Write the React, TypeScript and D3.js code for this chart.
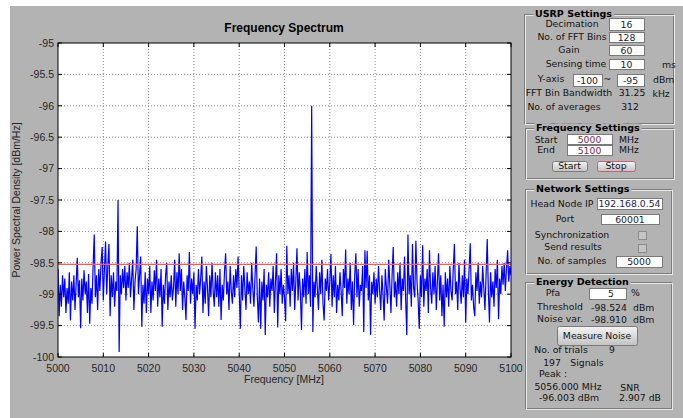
import React from 'react';
import * as d3 from 'd3';

// Spectrum bins: start + step (dBm/Hz)
const FREQ_START = 5000;
const FREQ_STEP = 0.25;
const PSD = [
  -98.60, -99.35, -98.85, -99.20, -98.70, -99.05, -98.75, -99.30, -98.90, -99.15, -98.65, -99.42, -98.80, -99.10, -98.70, -99.25, -98.85, -98.42, -99.05, -98.78,
  -99.54, -98.75, -99.10, -98.62, -99.00, -98.80, -99.30, -98.68, -99.47, -98.90, -99.15, -98.55, -98.05, -99.05, -98.70, -99.25, -98.60, -98.95, -98.50, -98.25,
  -99.10, -98.60, -98.16, -99.00, -98.55, -98.20, -99.35, -98.70, -99.05, -98.65, -99.20, -98.80, -98.95, -97.50, -99.92, -98.70, -99.00, -98.60, -98.90, -98.55,
  -99.10, -98.65, -98.90, -98.50, -99.05, -98.75, -98.45, -99.25, -98.80, -98.60, -97.92, -99.00, -98.70, -98.40, -99.52, -98.85, -99.15, -98.65, -99.30, -98.75,
  -99.00, -98.55, -99.30, -98.80, -99.10, -98.62, -98.95, -98.45, -99.20, -98.75, -99.05, -98.60, -99.52, -98.85, -99.15, -98.70, -98.50, -99.25, -98.80, -99.05,
  -98.70, -99.10, -98.90, -98.45, -99.20, -98.65, -99.00, -98.35, -98.95, -98.60, -99.25, -98.80, -99.05, -99.41, -98.70, -98.95, -98.33, -99.15, -98.75, -99.00,
  -98.65, -99.55, -98.85, -99.10, -98.60, -99.00, -98.75, -98.40, -99.30, -98.80, -99.15, -98.55, -98.90, -99.35, -98.70, -99.05, -98.50, -98.95, -99.20, -98.65,
  -99.05, -98.70, -99.20, -98.60, -99.41, -98.85, -99.10, -98.65, -98.35, -99.00, -98.80, -99.25, -98.55, -98.95, -99.15, -98.70, -99.05, -98.60, -98.90, -98.40,
  -98.95, -99.55, -98.70, -99.10, -98.55, -98.90, -99.25, -98.65, -99.00, -98.80, -99.15, -98.50, -98.90, -99.20, -98.70, -98.24, -99.05, -99.45, -98.75, -99.55,
  -98.80, -99.10, -98.60, -99.65, -98.85, -99.05, -98.65, -99.20, -98.75, -98.95, -98.55, -99.30, -98.80, -98.35, -99.53, -98.70, -99.00, -98.60, -99.15, -98.85,
  -99.05, -99.43, -98.23, -99.00, -98.70, -99.20, -98.60, -98.95, -98.50, -99.25, -98.80, -98.27, -99.10, -98.65, -98.95, -99.57, -98.75, -99.05, -98.60, -99.15,
  -98.33, -99.00, -98.70, -99.20, -96.00, -99.60, -98.80, -99.05, -98.55, -98.90, -99.25, -98.65, -99.00, -98.45, -99.15, -99.42, -98.75, -98.95, -98.60, -99.10,
  -98.80, -98.36, -99.20, -98.70, -99.05, -98.55, -99.30, -98.85, -99.10, -98.65, -98.95, -99.35, -98.60, -98.90, -98.29, -99.15, -98.75, -99.00, -98.50, -99.25,
  -98.80, -99.49, -98.70, -98.35, -99.05, -98.60, -99.20, -98.85, -98.95, -98.55, -99.60, -98.30, -98.90, -98.31, -99.10, -98.70, -99.65, -98.80, -99.00, -98.65,
  -99.15, -98.75, -99.05, -98.55, -98.95, -99.25, -98.70, -99.00, -99.42, -98.60, -98.90, -99.15, -98.45, -98.85, -99.30, -98.70, -98.25, -99.05, -98.80, -99.20,
  -98.65, -99.00, -98.50, -99.25, -98.75, -98.95, -98.40, -99.10, -99.65, -98.05, -99.00, -98.70, -99.20, -98.20, -98.90, -99.05, -98.15, -98.80, -99.10, -99.55,
  -98.70, -99.05, -98.22, -99.20, -98.75, -98.95, -98.60, -99.30, -98.30, -98.90, -99.15, -98.65, -99.00, -98.55, -99.25, -98.80, -98.35, -99.10, -98.70, -99.35,
  -98.85, -99.52, -98.65, -99.05, -98.75, -99.20, -98.55, -98.95, -99.10, -98.60, -98.20, -99.00, -98.80, -99.25, -98.50, -98.90, -99.15, -98.70, -99.05, -98.45,
  -99.45, -98.75, -99.00, -98.60, -98.19, -99.10, -98.85, -99.20, -99.35, -98.65, -98.95, -98.50, -99.15, -98.80, -99.05, -98.55, -98.90, -99.25, -98.70, -98.12,
  -98.95, -99.45, -98.65, -99.05, -98.80, -99.20, -98.60, -98.90, -98.45, -99.40, -98.75, -99.00, -98.55, -98.85, -98.50, -98.95, -98.60, -98.30, -98.80, -98.55, -98.70,
];
const THRESHOLD = -98.524;
const X_TICKS = [5000, 5010, 5020, 5030, 5040, 5050, 5060, 5070, 5080, 5090, 5100];
const Y_TICKS = [-95, -95.5, -96, -96.5, -97, -97.5, -98, -98.5, -99, -99.5, -100];

const W = 683;
const H = 418;
const plot = { left: 58, right: 511, top: 43, bottom: 357 };
const BG = '#b3b3b3';
const AX_FONT = '"Liberation Sans", Arial, sans-serif';
const UI_FONT = '"DejaVu Sans", sans-serif';

const Lbl = ({ x, y, t, a = 'middle', c = '#141414' }: any) => (
  <text x={x} y={y + 3.4} textAnchor={a} fontFamily={UI_FONT} fontSize={9.3} fill={c}>{t}</text>
);

const Panel = ({ x, y, w, h, title }: any) => (
  <g>
    <rect x={x + 0.5} y={y + 0.5} width={w} height={h} fill="none" stroke="#7c7c7c" />
    <rect x={x + 1.5} y={y + 1.5} width={w} height={h} fill="none" stroke="#e8e8e8" />
    <text x={x + 11} y={y + 2.5} fontFamily={UI_FONT} fontSize={9.5} fontWeight="bold" fill="#000"
      stroke={BG} strokeWidth={5} paintOrder="stroke">{title}</text>
  </g>
);

const Input = ({ x1, y1, x2, y2, v, c = '#1c1c2c', a = 'middle' }: any) => (
  <g>
    <rect x={x1 + 0.5} y={y1 + 0.5} width={x2 - x1} height={y2 - y1} fill="#fff" stroke="#7a7a7a" />
    <text x={a === 'middle' ? (x1 + x2) / 2 : x2 - 12} y={(y1 + y2) / 2 + 3.5} textAnchor={a}
      fontFamily={UI_FONT} fontSize={9.3} fill={c}>{v}</text>
  </g>
);

const Button = ({ x1, y1, x2, y2, t, focus = false }: any) => (
  <g>
    <rect x={x1 + 0.5} y={y1 + 0.5} width={x2 - x1} height={y2 - y1} rx={2} fill="url(#btn)"
      stroke={focus ? '#c0607c' : '#7a7a7a'} />
    <text x={(x1 + x2) / 2} y={(y1 + y2) / 2 + 3.3} textAnchor="middle" fontFamily={UI_FONT} fontSize={9.3} fill="#141414">{t}</text>
  </g>
);

const Check = ({ x, y }: any) => (
  <rect x={x + 0.5} y={y + 0.5} width={8} height={8} fill="#c4c4c4" stroke="#8c8c8c" />
);

export default function App() {
  const x = d3.scaleLinear().domain([5000, 5100]).range([plot.left, plot.right]);
  const y = d3.scaleLinear().domain([-100, -95]).range([plot.bottom, plot.top]);
  const pts: [number, number][] = PSD.map((v, i) => [FREQ_START + i * FREQ_STEP, v]);
  const line = d3.line<[number, number]>().x(d => x(d[0])).y(d => y(d[1]));
  const pw = plot.right - plot.left;
  const ph = plot.bottom - plot.top;

  return (
    <svg width={W} height={H} style={{ position: 'absolute', left: 0, top: 0 }}>
      <defs>
        <linearGradient id="btn" x1="0" y1="0" x2="0" y2="1">
          <stop offset="0" stopColor="#f4f4f4" />
          <stop offset="1" stopColor="#c2c2c2" />
        </linearGradient>
        <clipPath id="clip"><rect x={plot.left} y={plot.top} width={pw} height={ph} /></clipPath>
      </defs>
      <rect width={W} height={H} fill="#fff" />
      <rect x={10} y={6} width={W - 10} height={H - 6} fill={BG} />

      {/* axes */}
      <rect x={plot.left} y={plot.top} width={pw} height={ph} fill="#fff" />
      {X_TICKS.slice(1, -1).map(t => (
        <line key={'gx' + t} x1={x(t)} x2={x(t)} y1={plot.top} y2={plot.bottom} stroke="#8a8a8a" strokeDasharray="1 2" />
      ))}
      {Y_TICKS.slice(1, -1).map(t => (
        <line key={'gy' + t} x1={plot.left} x2={plot.right} y1={y(t)} y2={y(t)} stroke="#8a8a8a" strokeDasharray="1 2" />
      ))}
      <g clipPath="url(#clip)">
        <path d={line(pts) || ''} fill="none" stroke="#0000ff" strokeWidth={1.2} />
        <line x1={plot.left} x2={plot.right} y1={y(THRESHOLD)} y2={y(THRESHOLD)} stroke="#ff5a5a" strokeWidth={1.2} />
      </g>
      <rect x={plot.left} y={plot.top} width={pw} height={ph} fill="none" stroke="#000" />
      {X_TICKS.map(t => (
        <g key={'tx' + t}>
          <line x1={x(t)} x2={x(t)} y1={plot.bottom} y2={plot.bottom - 4} stroke="#000" />
          <line x1={x(t)} x2={x(t)} y1={plot.top} y2={plot.top + 4} stroke="#000" />
          <text x={x(t)} y={372} textAnchor="middle" fontFamily={AX_FONT} fontSize={10.5} fill="#262626">{t}</text>
        </g>
      ))}
      {Y_TICKS.map(t => (
        <g key={'ty' + t}>
          <line x1={plot.left} x2={plot.left + 4} y1={y(t)} y2={y(t)} stroke="#000" />
          <line x1={plot.right} x2={plot.right - 4} y1={y(t)} y2={y(t)} stroke="#000" />
          <text x={54} y={y(t) + 3.8} textAnchor="end" fontFamily={AX_FONT} fontSize={10.5} fill="#262626">{String(t)}</text>
        </g>
      ))}
      <text x={284} y={32} textAnchor="middle" fontFamily={AX_FONT} fontSize={12} fontWeight="bold" fill="#000">Frequency Spectrum</text>
      <text x={284} y={383} textAnchor="middle" fontFamily={AX_FONT} fontSize={10.5} fill="#262626">Frequency [MHz]</text>
      <text transform={`translate(20,${(plot.top + plot.bottom) / 2}) rotate(-90)`} textAnchor="middle"
        fontFamily={AX_FONT} fontSize={10.5} fill="#262626">Power Spectral Density [dBm/Hz]</text>

      {/* USRP settings */}
      <Panel x={524} y={14} w={149} h={109} title="USRP Settings" />
      <Lbl x={572} y={24} t="Decimation" />
      <Input x1={609} y1={18} x2={644} y2={30} v="16" />
      <Lbl x={572} y={37} t="No. of FFT Bins" />
      <Input x1={609} y1={32} x2={644} y2={42} v="128" />
      <Lbl x={569} y={50} t="Gain" />
      <Input x1={609} y1={45} x2={644} y2={55} v="60" />
      <Lbl x={576} y={64} t="Sensing time" />
      <Input x1={609} y1={59} x2={644} y2={69} v="10" />
      <Lbl x={662} y={65} t="ms" a="start" />
      <Lbl x={551} y={79} t="Y-axis" />
      <Input x1={573} y1={74} x2={602} y2={86} v="-100" />
      <Lbl x={607.5} y={79} t="~" />
      <Input x1={617} y1={74} x2={644} y2={86} v="-95" />
      <Lbl x={653} y={80} t="dBm" a="start" />
      <Lbl x={569} y={93} t="FFT Bin Bandwidth" />
      <Lbl x={632} y={93} t="31.25" />
      <Lbl x={652.5} y={94} t="kHz" a="start" />
      <Lbl x={564} y={107} t="No. of averages" />
      <Lbl x={630} y={107} t="312" />

      {/* Frequency settings */}
      <Panel x={525} y={128} w={148} h={50} title="Frequency Settings" />
      <Lbl x={546} y={139.5} t="Start" />
      <Input x1={567} y1={134} x2={612} y2={144} v="5000" c="#7a2f52" />
      <Lbl x={619} y={139.5} t="MHz" a="start" />
      <Lbl x={546} y={150} t="End" />
      <Input x1={567} y1={145} x2={612} y2={155} v="5100" c="#7a2f52" />
      <Lbl x={619} y={150} t="MHz" a="start" />
      <Button x1={552} y1={161} x2={587} y2={171} t="Start" />
      <Button x1={597} y1={161} x2={635} y2={171} t="Stop" focus />

      {/* Network settings */}
      <Panel x={525} y={189} w={146} h={84} title="Network Settings" />
      <Lbl x={562} y={204} t="Head Node IP" />
      <Input x1={597} y1={198} x2={662} y2={209} v="192.168.0.54" c="#2a2050" />
      <Lbl x={565} y={219} t="Port" />
      <Input x1={601} y1={214} x2={659} y2={224} v="60001" />
      <Lbl x={572} y={235} t="Synchronization" />
      <Check x={638} y={231} />
      <Lbl x={573} y={247} t="Send results" />
      <Check x={638} y={244} />
      <Lbl x={572} y={261} t="No. of samples" />
      <Input x1={616} y1={256} x2={662} y2={267} v="5000" />

      {/* Energy detection */}
      <Panel x={525} y={282} w={146} h={126} title="Energy Detection" />
      <Lbl x={553} y={293} t="Pfa" />
      <Input x1={589} y1={288} x2={626} y2={299} v="5" a="end" />
      <Lbl x={631} y={293} t="%" a="start" />
      <Lbl x={560} y={307} t="Threshold" />
      <Lbl x={609} y={308} t="-98.524" />
      <Lbl x={633} y={308} t="dBm" a="start" />
      <Lbl x={560} y={319} t="Noise var." />
      <Lbl x={609} y={320} t="-98.910" />
      <Lbl x={633} y={320} t="dBm" a="start" />
      <Button x1={557} y1={326} x2={637} y2={345} t="Measure Noise" />
      <Lbl x={561} y={350} t="No. of trials" />
      <Lbl x={612} y={350} t="9" />
      <Lbl x={552} y={363} t="197" />
      <Lbl x={587} y={363} t="Signals" />
      <Lbl x={553} y={374} t="Peak :" />
      <Lbl x={568} y={387} t="5056.000 MHz" />
      <Lbl x={630} y={388} t="SNR" />
      <Lbl x={569} y={398} t="-96.003  dBm" />
      <Lbl x={640} y={398} t="2.907  dB" />
    </svg>
  );
}
